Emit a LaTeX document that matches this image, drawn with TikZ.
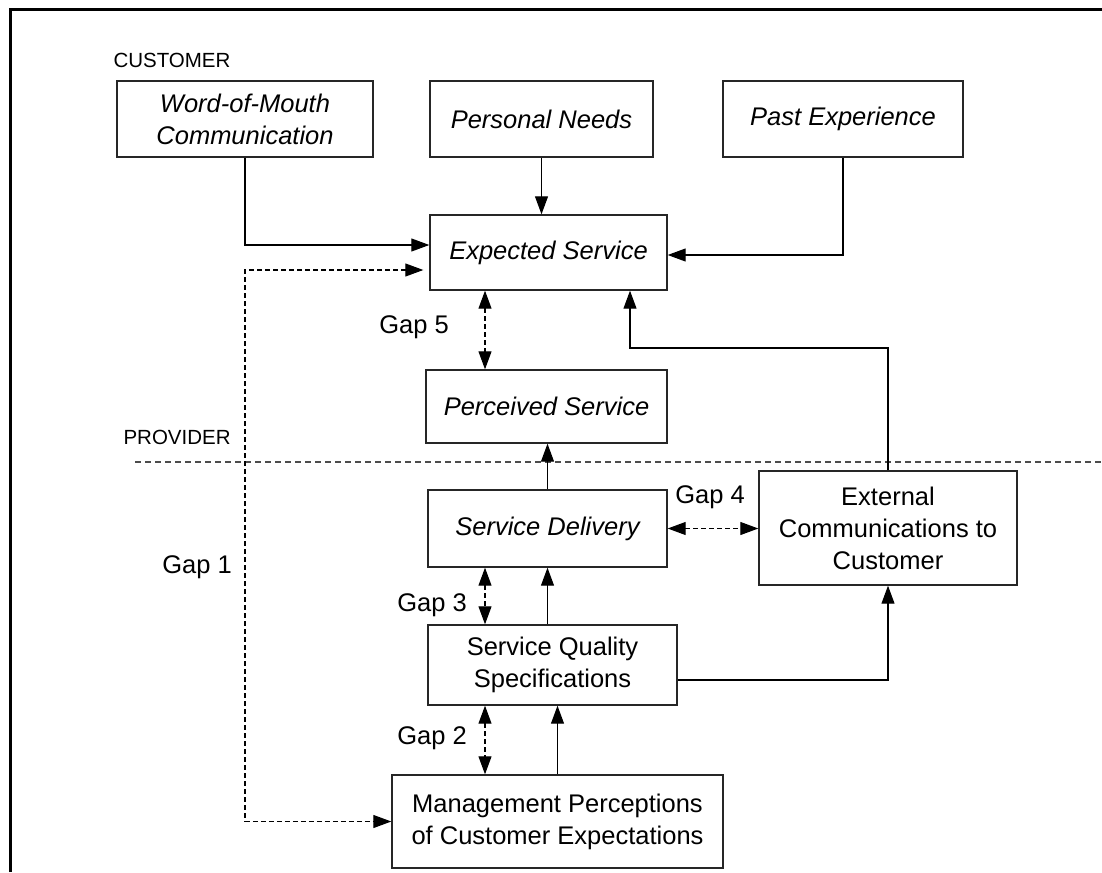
\documentclass[tikz,border=0pt]{standalone}
\usepackage{fontspec}
\setmainfont{Liberation Sans}
\usetikzlibrary{arrows.meta,positioning}

\begin{document}
\begin{tikzpicture}[x=1pt,y=-1pt,box/.style={draw=black!85,line width=1.4pt,align=center,inner sep=0pt,font=\fontsize{25.5}{32}\selectfont},arr/.style={line width=1.1pt,-{Triangle[length=18pt,width=13pt]}},gaparr/.style={line width=1.1pt,dash pattern=on 5pt off 3pt,{Triangle[length=18pt,width=13pt]}-{Triangle[length=18pt,width=13pt]}},lbl/.style={font=\fontsize{25.5}{30}\selectfont},side/.style={font=\fontsize{20.5}{24}\selectfont,anchor=west}]
\useasboundingbox (0,0) rectangle (1102,872);
\draw[line width=3pt] (10,872) -- (10,10) -- (1102,10);
\node[side] (cust) at (110,60) {CUSTOMER};
\node[side] (prov) at (120,437) {PROVIDER};
\draw[black!70,line width=1.1pt,dash pattern=on 6pt off 4pt] (135,462) -- (1102,462);
% customer side
\node[box,minimum width=256pt,minimum height=76pt] (wom) at (245,119) {\itshape Word-of-Mouth\\\itshape Communication};
\node[box,minimum width=223pt,minimum height=76pt] (needs) at (541.5,119) {\itshape Personal Needs};
\node[box,minimum width=240pt,minimum height=76pt] (past) at (843,119) {\itshape Past Experience};
\node[box,minimum width=237pt,minimum height=75pt] (expected) at (548.5,252.5) {\itshape Expected Service};
\node[box,minimum width=241pt,minimum height=73pt] (perceived) at (546.5,406.5) {\itshape Perceived Service};
% provider side
\node[box,minimum width=239pt,minimum height=77pt] (delivery) at (547.5,528.5) {\itshape Service Delivery};
\node[box,minimum width=258pt,minimum height=114pt] (external) at (888,528) {External\\Communications to\\Customer};
\node[box,minimum width=249pt,minimum height=80pt] (sqs) at (552.5,665) {Service Quality\\Specifications};
\node[box,minimum width=331pt,minimum height=93pt] (mgmt) at (557.5,821.5) {Management Perceptions\\of Customer Expectations};
\coordinate (gapx) at (485,0);
\coordinate (ret) at (630,348);
\draw[arr] (wom.south) |- ([yshift=7.5pt]expected.west);
\draw[arr] (needs.south) -- (needs.south |- expected.north);
\draw[arr] (past.south) |- ([yshift=-2.5pt]expected.east);
\draw[gaparr] ([xshift=-6pt,yshift=-17.5pt]expected.west) -| (wom.south |- mgmt.west) -- (mgmt.west);
\draw[gaparr] (expected.south -| gapx) -- (perceived.north -| gapx);
\draw[arr] (external.north) |- (ret) -- (expected.south -| ret);
\draw[arr] (delivery.north) -- (delivery.north |- perceived.south);
\draw[gaparr] (delivery.east) -- (delivery.east -| external.west);
\draw[gaparr] (delivery.south -| gapx) -- (sqs.north -| gapx);
\draw[arr] (delivery.south |- sqs.north) -- (delivery.south);
\draw[arr] ([yshift=-15pt]sqs.east) -| (external.south);
\draw[gaparr] (sqs.south -| gapx) -- (mgmt.north -| gapx);
\draw[arr] (mgmt.north) -- (mgmt.north |- sqs.south);
% gap labels
\node[lbl] (g5) at (414,327) {Gap 5};
\node[lbl] (g4) at (710,497) {Gap 4};
\node[lbl] (g1) at (197,567) {Gap 1};
\node[lbl] (g3) at (432,605) {Gap 3};
\node[lbl] (g2) at (432,738) {Gap 2};
\end{tikzpicture}
\end{document}
